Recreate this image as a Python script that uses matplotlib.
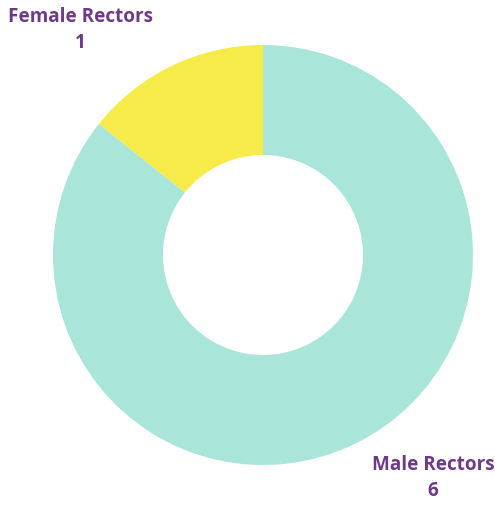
import matplotlib.pyplot as plt

labels = ['Female Rectors', 'Male Rectors']
counts = [1, 6]
colors = ['#F7EB4A', '#A9E5D9']
text_color = '#6E3A87'

fig = plt.figure(figsize=(4.95, 5.06), dpi=100)
ax = fig.add_axes([0, 0, 1, 1])

ax.pie(counts, colors=colors, startangle=90, counterclock=True,
       center=(263, 250), radius=210,
       wedgeprops=dict(width=110, linewidth=0))

# pie() resets the limits, so set them afterwards (pixel coords, y up)
ax.set_xlim(0, 495)
ax.set_ylim(0, 506)
ax.set_aspect('equal')
ax.axis('off')

label_pos = [(80, 476), (433, 28)]
for lab, n, (x, y) in zip(labels, counts, label_pos):
    ax.text(x, y, f'{lab}\n{n}', ha='center', va='center',
            fontsize=13.6, fontweight='bold', family='Open Sans',
            color=text_color, linespacing=1.4)

fig.savefig('out.png', dpi=100)
